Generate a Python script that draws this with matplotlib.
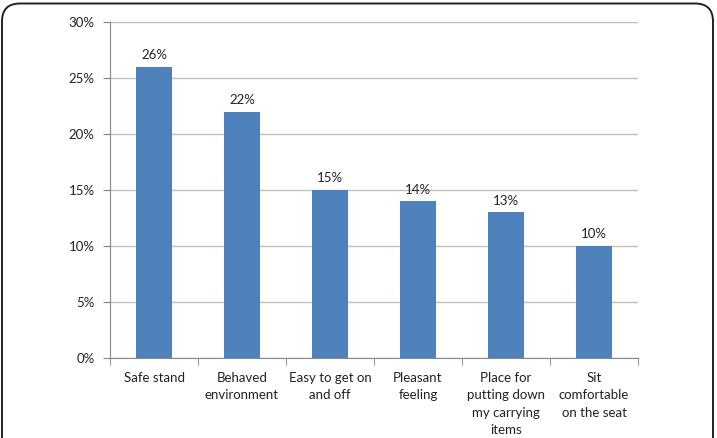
import matplotlib
matplotlib.use('Agg')
import matplotlib.pyplot as plt
from matplotlib.patches import FancyBboxPatch
from matplotlib.ticker import PercentFormatter, MultipleLocator

categories = ['Safe stand', 'Behaved\nenvironment', 'Easy to get on\nand off',
              'Pleasant\nfeeling', 'Place for\nputting down\nmy carrying\nitems',
              'Sit\ncomfortable\non the seat']
values = [26, 22, 15, 14, 13, 10]

plt.rcParams['font.family'] = ['Lato', 'DejaVu Sans']

fig = plt.figure(figsize=(7.17, 4.38), dpi=100)
ax = fig.add_axes([110 / 717, 80 / 438, 528 / 717, 336 / 438])

# rounded frame around the whole chart
frame = FancyBboxPatch((2 / 717, -0.05), 711 / 717, 1.04 - 3.5 / 438 + 0.01,
                       boxstyle='round,pad=0,rounding_size=0.025',
                       transform=fig.transFigure, fill=False,
                       edgecolor='#222222', linewidth=1.4, mutation_aspect=717 / 438)
fig.patches.append(frame)

x = range(len(categories))
bars = ax.bar(x, values, width=0.4, color='#4F81BD', zorder=3)
for b, v in zip(bars, values):
    ax.annotate(f'{v}%', (b.get_x() + b.get_width() / 2, v), xytext=(0, 4),
                textcoords='offset points', ha='center', va='bottom',
                fontsize=9.5, color='#222222')

ax.set_xlim(-0.5, len(categories) - 0.5)
ax.set_ylim(0, 30)
ax.yaxis.set_major_locator(MultipleLocator(5))
ax.yaxis.set_major_formatter(PercentFormatter(decimals=0))
ax.grid(axis='y', color='#BEBEBE', linewidth=1, zorder=0)

ax.set_xticks(list(x))
ax.set_xticklabels(categories, fontsize=9.5, color='#222222', linespacing=1.55)
ax.tick_params(axis='x', length=0, pad=10)
ax.set_xticks([i - 0.5 for i in range(len(categories) + 1)], minor=True)
ax.tick_params(axis='x', which='minor', length=5, color='#868686', direction='out')
ax.tick_params(axis='y', length=5, color='#868686', labelsize=9.5,
               labelcolor='#222222', pad=6)

for s in ['top', 'right']:
    ax.spines[s].set_visible(False)
for s in ['left', 'bottom']:
    ax.spines[s].set_color('#868686')

fig.savefig('out.png', dpi=100)
